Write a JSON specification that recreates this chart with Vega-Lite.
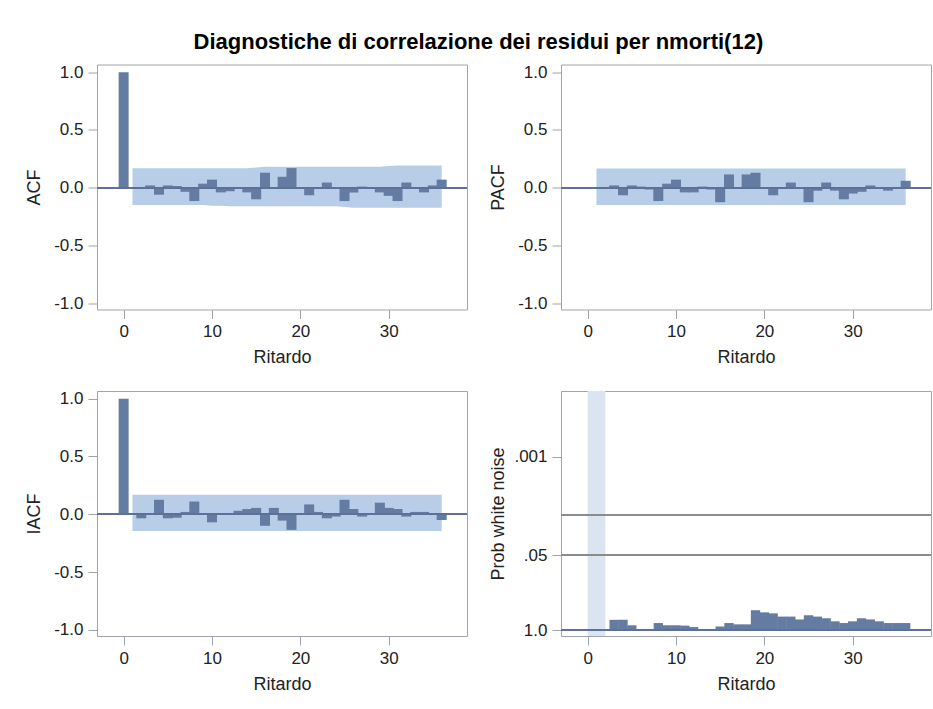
{
  "$schema": "https://vega.github.io/schema/vega-lite/v6.json",
  "background": "white",
  "padding": {"left": 24, "top": 30.5, "right": 0, "bottom": 0},
  "title": {"text": "Diagnostiche di correlazione dei residui per nmorti(12)", "font": "Liberation Sans", "fontSize": 22, "fontWeight": "bold", "color": "#000000", "anchor": "middle", "offset": 9},
  "datasets": {
    "acf": [
      {"lag": 0, "value": 1.0},
      {"lag": 1, "value": -0.01, "lo": -0.15, "hi": 0.168},
      {"lag": 2, "value": -0.01, "lo": -0.15, "hi": 0.168},
      {"lag": 3, "value": 0.02, "lo": -0.15, "hi": 0.168},
      {"lag": 4, "value": -0.06, "lo": -0.15, "hi": 0.168},
      {"lag": 5, "value": 0.02, "lo": -0.15, "hi": 0.168},
      {"lag": 6, "value": 0.015, "lo": -0.15, "hi": 0.168},
      {"lag": 7, "value": -0.035, "lo": -0.15, "hi": 0.168},
      {"lag": 8, "value": -0.115, "lo": -0.15, "hi": 0.168},
      {"lag": 9, "value": 0.035, "lo": -0.15, "hi": 0.168},
      {"lag": 10, "value": 0.07, "lo": -0.155, "hi": 0.168},
      {"lag": 11, "value": -0.04, "lo": -0.155, "hi": 0.168},
      {"lag": 12, "value": -0.03, "lo": -0.16, "hi": 0.168},
      {"lag": 13, "value": -0.005, "lo": -0.16, "hi": 0.168},
      {"lag": 14, "value": -0.04, "lo": -0.16, "hi": 0.168},
      {"lag": 15, "value": -0.1, "lo": -0.16, "hi": 0.175},
      {"lag": 16, "value": 0.13, "lo": -0.16, "hi": 0.182},
      {"lag": 17, "value": 0.0, "lo": -0.16, "hi": 0.182},
      {"lag": 18, "value": 0.095, "lo": -0.16, "hi": 0.182},
      {"lag": 19, "value": 0.17, "lo": -0.16, "hi": 0.182},
      {"lag": 20, "value": -0.005, "lo": -0.16, "hi": 0.182},
      {"lag": 21, "value": -0.065, "lo": -0.16, "hi": 0.182},
      {"lag": 22, "value": 0.005, "lo": -0.16, "hi": 0.182},
      {"lag": 23, "value": 0.045, "lo": -0.16, "hi": 0.182},
      {"lag": 24, "value": -0.01, "lo": -0.16, "hi": 0.182},
      {"lag": 25, "value": -0.115, "lo": -0.166, "hi": 0.182},
      {"lag": 26, "value": -0.04, "lo": -0.172, "hi": 0.182},
      {"lag": 27, "value": 0.01, "lo": -0.172, "hi": 0.182},
      {"lag": 28, "value": -0.005, "lo": -0.172, "hi": 0.182},
      {"lag": 29, "value": -0.04, "lo": -0.172, "hi": 0.182},
      {"lag": 30, "value": -0.07, "lo": -0.172, "hi": 0.188},
      {"lag": 31, "value": -0.115, "lo": -0.172, "hi": 0.193},
      {"lag": 32, "value": 0.045, "lo": -0.172, "hi": 0.193},
      {"lag": 33, "value": 0.0, "lo": -0.172, "hi": 0.193},
      {"lag": 34, "value": -0.04, "lo": -0.172, "hi": 0.193},
      {"lag": 35, "value": 0.02, "lo": -0.172, "hi": 0.193},
      {"lag": 36, "value": 0.07, "lo": -0.172, "hi": 0.193}
    ],
    "pacf": [
      {"lag": 1, "value": 0.005, "lo": -0.15, "hi": 0.167},
      {"lag": 2, "value": -0.01, "lo": -0.15, "hi": 0.167},
      {"lag": 3, "value": 0.02, "lo": -0.15, "hi": 0.167},
      {"lag": 4, "value": -0.065, "lo": -0.15, "hi": 0.167},
      {"lag": 5, "value": 0.02, "lo": -0.15, "hi": 0.167},
      {"lag": 6, "value": 0.01, "lo": -0.15, "hi": 0.167},
      {"lag": 7, "value": -0.015, "lo": -0.15, "hi": 0.167},
      {"lag": 8, "value": -0.115, "lo": -0.15, "hi": 0.167},
      {"lag": 9, "value": 0.035, "lo": -0.15, "hi": 0.167},
      {"lag": 10, "value": 0.07, "lo": -0.15, "hi": 0.167},
      {"lag": 11, "value": -0.04, "lo": -0.15, "hi": 0.167},
      {"lag": 12, "value": -0.04, "lo": -0.15, "hi": 0.167},
      {"lag": 13, "value": 0.01, "lo": -0.15, "hi": 0.167},
      {"lag": 14, "value": -0.015, "lo": -0.15, "hi": 0.167},
      {"lag": 15, "value": -0.125, "lo": -0.15, "hi": 0.167},
      {"lag": 16, "value": 0.115, "lo": -0.15, "hi": 0.167},
      {"lag": 17, "value": 0.0, "lo": -0.15, "hi": 0.167},
      {"lag": 18, "value": 0.115, "lo": -0.15, "hi": 0.167},
      {"lag": 19, "value": 0.13, "lo": -0.15, "hi": 0.167},
      {"lag": 20, "value": 0.0, "lo": -0.15, "hi": 0.167},
      {"lag": 21, "value": -0.065, "lo": -0.15, "hi": 0.167},
      {"lag": 22, "value": 0.0, "lo": -0.15, "hi": 0.167},
      {"lag": 23, "value": 0.045, "lo": -0.15, "hi": 0.167},
      {"lag": 24, "value": 0.0, "lo": -0.15, "hi": 0.167},
      {"lag": 25, "value": -0.125, "lo": -0.15, "hi": 0.167},
      {"lag": 26, "value": -0.025, "lo": -0.15, "hi": 0.167},
      {"lag": 27, "value": 0.045, "lo": -0.15, "hi": 0.167},
      {"lag": 28, "value": -0.025, "lo": -0.15, "hi": 0.167},
      {"lag": 29, "value": -0.1, "lo": -0.15, "hi": 0.167},
      {"lag": 30, "value": -0.05, "lo": -0.15, "hi": 0.167},
      {"lag": 31, "value": -0.035, "lo": -0.15, "hi": 0.167},
      {"lag": 32, "value": 0.02, "lo": -0.15, "hi": 0.167},
      {"lag": 33, "value": -0.005, "lo": -0.15, "hi": 0.167},
      {"lag": 34, "value": -0.025, "lo": -0.15, "hi": 0.167},
      {"lag": 35, "value": -0.005, "lo": -0.15, "hi": 0.167},
      {"lag": 36, "value": 0.06, "lo": -0.15, "hi": 0.167}
    ],
    "iacf": [
      {"lag": 0, "value": 1.0},
      {"lag": 1, "value": 0.005, "lo": -0.145, "hi": 0.168},
      {"lag": 2, "value": -0.035, "lo": -0.145, "hi": 0.168},
      {"lag": 3, "value": -0.005, "lo": -0.145, "hi": 0.168},
      {"lag": 4, "value": 0.125, "lo": -0.145, "hi": 0.168},
      {"lag": 5, "value": -0.035, "lo": -0.145, "hi": 0.168},
      {"lag": 6, "value": -0.03, "lo": -0.145, "hi": 0.168},
      {"lag": 7, "value": 0.02, "lo": -0.145, "hi": 0.168},
      {"lag": 8, "value": 0.11, "lo": -0.145, "hi": 0.168},
      {"lag": 9, "value": -0.005, "lo": -0.145, "hi": 0.168},
      {"lag": 10, "value": -0.07, "lo": -0.145, "hi": 0.168},
      {"lag": 11, "value": -0.005, "lo": -0.145, "hi": 0.168},
      {"lag": 12, "value": 0.0, "lo": -0.145, "hi": 0.168},
      {"lag": 13, "value": 0.03, "lo": -0.145, "hi": 0.168},
      {"lag": 14, "value": 0.045, "lo": -0.145, "hi": 0.168},
      {"lag": 15, "value": 0.055, "lo": -0.145, "hi": 0.168},
      {"lag": 16, "value": -0.1, "lo": -0.145, "hi": 0.168},
      {"lag": 17, "value": 0.055, "lo": -0.145, "hi": 0.168},
      {"lag": 18, "value": -0.055, "lo": -0.145, "hi": 0.168},
      {"lag": 19, "value": -0.135, "lo": -0.145, "hi": 0.168},
      {"lag": 20, "value": -0.005, "lo": -0.145, "hi": 0.168},
      {"lag": 21, "value": 0.085, "lo": -0.145, "hi": 0.168},
      {"lag": 22, "value": 0.02, "lo": -0.145, "hi": 0.168},
      {"lag": 23, "value": -0.035, "lo": -0.145, "hi": 0.168},
      {"lag": 24, "value": -0.02, "lo": -0.145, "hi": 0.168},
      {"lag": 25, "value": 0.125, "lo": -0.145, "hi": 0.168},
      {"lag": 26, "value": 0.045, "lo": -0.145, "hi": 0.168},
      {"lag": 27, "value": -0.02, "lo": -0.145, "hi": 0.168},
      {"lag": 28, "value": 0.005, "lo": -0.145, "hi": 0.168},
      {"lag": 29, "value": 0.1, "lo": -0.145, "hi": 0.168},
      {"lag": 30, "value": 0.055, "lo": -0.145, "hi": 0.168},
      {"lag": 31, "value": 0.045, "lo": -0.145, "hi": 0.168},
      {"lag": 32, "value": -0.02, "lo": -0.145, "hi": 0.168},
      {"lag": 33, "value": 0.02, "lo": -0.145, "hi": 0.168},
      {"lag": 34, "value": 0.02, "lo": -0.145, "hi": 0.168},
      {"lag": 35, "value": 0.01, "lo": -0.145, "hi": 0.168},
      {"lag": 36, "value": -0.05, "lo": -0.145, "hi": 0.168}
    ],
    "wn": [
      {"lag": 3, "p": 0.66}, {"lag": 4, "p": 0.66}, {"lag": 5, "p": 0.82}, {"lag": 6, "p": 0.95},
      {"lag": 7, "p": 0.95}, {"lag": 8, "p": 0.75}, {"lag": 9, "p": 0.82}, {"lag": 10, "p": 0.82},
      {"lag": 11, "p": 0.83}, {"lag": 12, "p": 0.88}, {"lag": 13, "p": 0.95}, {"lag": 14, "p": 0.95},
      {"lag": 15, "p": 0.86}, {"lag": 16, "p": 0.75}, {"lag": 17, "p": 0.79}, {"lag": 18, "p": 0.79},
      {"lag": 19, "p": 0.45}, {"lag": 20, "p": 0.49}, {"lag": 21, "p": 0.51}, {"lag": 22, "p": 0.58},
      {"lag": 23, "p": 0.58}, {"lag": 24, "p": 0.65}, {"lag": 25, "p": 0.55}, {"lag": 26, "p": 0.58},
      {"lag": 27, "p": 0.62}, {"lag": 28, "p": 0.7}, {"lag": 29, "p": 0.75}, {"lag": 30, "p": 0.7},
      {"lag": 31, "p": 0.62}, {"lag": 32, "p": 0.65}, {"lag": 33, "p": 0.7}, {"lag": 34, "p": 0.75},
      {"lag": 35, "p": 0.75}, {"lag": 36, "p": 0.75}
    ],
    "excluded": [{"start": 0, "end": 2}]
  },
  "columns": 2,
  "spacing": {"row": 21.5, "column": 19},
  "concat": [
    {
      "width": 370, "height": 245,
      "layer": [
        {"data": {"name": "acf"}, "transform": [{"filter": "datum.lag >= 1"}],
         "mark": {"type": "area", "color": "#b8cde7", "opacity": 1},
         "encoding": {
           "x": {"field": "lag", "type": "quantitative", "scale": {"domain": [-2.45, 38.3], "nice": false, "zero": false}, "axis": {"title": "Ritardo", "values": [0, 10, 20, 30]}},
           "y": {"field": "lo", "type": "quantitative", "scale": {"domain": [-1.053, 1.066], "nice": false}, "axis": {"title": "ACF", "values": [-1, -0.5, 0, 0.5, 1], "labelExpr": "datum.value < 0 ? '-' + format(-datum.value, '.1f') : format(datum.value, '.1f')"}},
           "y2": {"field": "hi"}
         }},
        {"data": {"name": "acf"}, "mark": {"type": "bar", "color": "#647ba2", "size": 10},
         "encoding": {
           "x": {"field": "lag", "type": "quantitative", "title": "Ritardo"},
           "y": {"field": "value", "type": "quantitative", "title": "ACF"}
         }},
        {"data": {"name": "acf"}, "mark": {"type": "rule", "color": "#5d7099", "strokeWidth": 1.5},
         "encoding": {"y": {"datum": 0, "type": "quantitative", "title": "ACF"}}}
      ]
    },
    {
      "width": 370, "height": 245,
      "layer": [
        {"data": {"name": "pacf"},
         "mark": {"type": "area", "color": "#b8cde7", "opacity": 1},
         "encoding": {
           "x": {"field": "lag", "type": "quantitative", "scale": {"domain": [-2.45, 38.3], "nice": false, "zero": false}, "axis": {"title": "Ritardo", "values": [0, 10, 20, 30]}},
           "y": {"field": "lo", "type": "quantitative", "scale": {"domain": [-1.053, 1.066], "nice": false}, "axis": {"title": "PACF", "values": [-1, -0.5, 0, 0.5, 1], "labelExpr": "datum.value < 0 ? '-' + format(-datum.value, '.1f') : format(datum.value, '.1f')"}},
           "y2": {"field": "hi"}
         }},
        {"data": {"name": "pacf"}, "mark": {"type": "bar", "color": "#647ba2", "size": 10},
         "encoding": {
           "x": {"field": "lag", "type": "quantitative", "title": "Ritardo"},
           "y": {"field": "value", "type": "quantitative", "title": "PACF"}
         }},
        {"data": {"name": "pacf"}, "mark": {"type": "rule", "color": "#5d7099", "strokeWidth": 1.5},
         "encoding": {"y": {"datum": 0, "type": "quantitative", "title": "PACF"}}}
      ]
    },
    {
      "width": 370, "height": 245,
      "layer": [
        {"data": {"name": "iacf"}, "transform": [{"filter": "datum.lag >= 1"}],
         "mark": {"type": "area", "color": "#b8cde7", "opacity": 1},
         "encoding": {
           "x": {"field": "lag", "type": "quantitative", "scale": {"domain": [-2.45, 38.3], "nice": false, "zero": false}, "axis": {"title": "Ritardo", "values": [0, 10, 20, 30]}},
           "y": {"field": "lo", "type": "quantitative", "scale": {"domain": [-1.053, 1.066], "nice": false}, "axis": {"title": "IACF", "values": [-1, -0.5, 0, 0.5, 1], "labelExpr": "datum.value < 0 ? '-' + format(-datum.value, '.1f') : format(datum.value, '.1f')"}},
           "y2": {"field": "hi"}
         }},
        {"data": {"name": "iacf"}, "mark": {"type": "bar", "color": "#647ba2", "size": 10},
         "encoding": {
           "x": {"field": "lag", "type": "quantitative", "title": "Ritardo"},
           "y": {"field": "value", "type": "quantitative", "title": "IACF"}
         }},
        {"data": {"name": "iacf"}, "mark": {"type": "rule", "color": "#5d7099", "strokeWidth": 1.5},
         "encoding": {"y": {"datum": 0, "type": "quantitative", "title": "IACF"}}}
      ]
    },
    {
      "width": 370, "height": 245,
      "layer": [
        {"data": {"name": "excluded"},
         "mark": {"type": "rect", "color": "#dbe5f2", "opacity": 1},
         "encoding": {
           "x": {"field": "start", "type": "quantitative", "scale": {"domain": [-2.45, 38.3], "nice": false, "zero": false}, "axis": {"title": "Ritardo", "values": [0, 10, 20, 30]}},
           "x2": {"field": "end"}
         }},
        {"data": {"name": "wn"}, "mark": {"type": "bar", "color": "#647ba2", "size": 9.3},
         "encoding": {
           "x": {"field": "lag", "type": "quantitative", "title": "Ritardo"},
           "y": {"field": "p", "type": "quantitative", "scale": {"type": "log", "domain": [1.256, 0.000073], "nice": false}, "axis": {"title": "Prob white noise", "values": [1, 0.05, 0.001], "labelExpr": "datum.value == 1 ? '1.0' : (datum.value == 0.05 ? '.05' : '.001')"}},
           "y2": {"datum": 1}
         }},
        {"data": {"name": "wn"}, "mark": {"type": "rule", "color": "#8c8c8c", "strokeWidth": 1},
         "encoding": {"y": {"datum": 0.05, "type": "quantitative", "title": "Prob white noise"}}},
        {"data": {"name": "wn"}, "mark": {"type": "rule", "color": "#8c8c8c", "strokeWidth": 1},
         "encoding": {"y": {"datum": 0.01, "type": "quantitative", "title": "Prob white noise"}}},
        {"data": {"name": "wn"}, "mark": {"type": "rule", "color": "#5d7099", "strokeWidth": 1.5},
         "encoding": {"y": {"datum": 1, "type": "quantitative", "title": "Prob white noise"}}}
      ]
    }
  ],
  "config": {
    "font": "Liberation Sans",
    "view": {"stroke": "#a0a4a8", "strokeWidth": 1},
    "axis": {
      "domain": false, "grid": false, "labelFlush": false,
      "tickColor": "#a0a4a8", "tickSize": 9, "tickWidth": 1,
      "labelFont": "Liberation Sans", "labelFontSize": 17, "labelColor": "#222222", "labelPadding": 5,
      "titleFont": "Liberation Sans", "titleFontSize": 18, "titleFontWeight": "normal", "titleColor": "#222222", "titlePadding": 8
    },
    "axisY": {"minExtent": 46, "maxExtent": 46},
    "axisX": {"titlePadding": 9}
  }
}
